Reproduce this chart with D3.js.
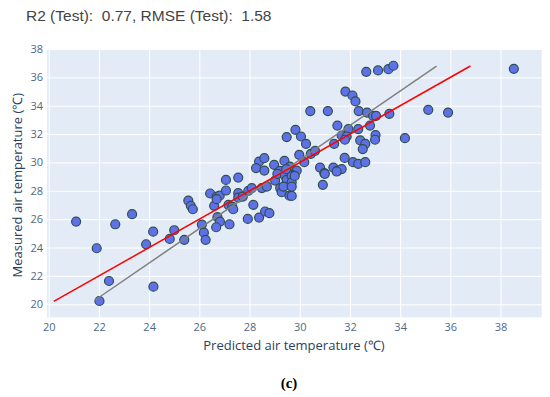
<!DOCTYPE html>
<html lang="en">
<head>
<meta charset="utf-8">
<title>Predicted vs measured air temperature</title>
<style>
  body { margin: 0; padding: 0; background: #fff; }
  svg { display: block; }
</style>
</head>
<body>
<svg id="chart" width="550" height="397"></svg>
<script src="https://d3js.org/d3.v7.min.js"></script>
<script>
// predicted (x) and measured (y) air temperature, test set
const predicted = [
  29.48, 28.38, 28.59, 28.26, 28.59, 28.98, 29.39, 29.21, 29.48, 27.06,
  27.55, 32.65, 33.12, 33.53, 33.73, 38.53, 31.82, 32.10, 32.22, 30.42,
  31.12, 32.35, 32.68, 32.92, 33.04, 33.57, 35.12, 35.91, 29.83, 31.50,
  30.05, 31.94, 32.33, 32.80, 31.67, 31.87, 31.80, 30.25, 31.37, 32.41,
  32.61, 33.02, 33.00, 32.51, 34.19, 29.98, 30.44, 30.61, 30.18, 31.79,
  32.12, 32.33, 32.61, 29.61, 29.88, 30.81, 30.98, 31.34, 31.49, 31.67,
  29.68, 21.09, 21.91, 22.65, 23.32, 22.40, 22.02, 24.17, 23.88, 24.16,
  24.82, 25.00, 25.40, 25.56, 25.66, 25.74, 26.10, 26.18, 26.25, 26.43,
  26.59, 26.69, 26.72, 26.81, 26.82, 26.67, 27.06, 27.16, 27.20, 27.31,
  27.35, 27.55, 27.55, 27.73, 27.93, 27.95, 28.09, 28.15, 28.38, 28.49,
  28.62, 28.79, 28.69, 29.02, 29.11, 29.22, 29.28, 29.41, 29.45, 29.48,
  29.59, 29.68, 29.68, 29.68, 30.92, 31.00, 31.47, 26.69, 29.46, 29.80,
  29.35, 29.68
];
const measured = [
  31.79, 30.06, 30.30, 29.60, 29.43, 29.83, 30.11, 29.41, 29.13, 28.77,
  28.93, 36.39, 36.49, 36.58, 36.82, 36.60, 35.00, 34.72, 34.30, 33.62,
  33.62, 33.62, 33.52, 33.29, 33.29, 33.43, 33.71, 33.52, 32.30, 32.60,
  31.83, 32.35, 32.35, 32.60, 31.90, 31.83, 31.60, 31.31, 31.31, 31.55,
  31.31, 31.93, 31.60, 30.94, 31.71, 30.54, 30.61, 30.82, 30.02, 30.32,
  30.02, 29.90, 30.02, 29.71, 29.43, 29.64, 29.24, 29.64, 29.41, 29.53,
  29.13, 25.83, 23.95, 25.64, 26.35, 21.64, 20.23, 21.24, 24.23, 25.12,
  24.61, 25.22, 24.54, 27.31, 26.94, 26.70, 25.62, 25.05, 24.54, 27.81,
  26.94, 27.59, 26.14, 27.66, 25.83, 25.43, 28.02, 27.01, 25.64, 26.89,
  26.70, 27.83, 27.52, 27.59, 26.02, 28.00, 28.19, 27.01, 26.11, 28.19,
  26.54, 26.42, 28.30, 28.72, 29.20, 28.19, 27.90, 29.05, 28.42, 28.77,
  27.66, 29.05, 28.60, 27.64, 28.42, 29.20, 29.36, 27.41, 29.53, 29.05,
  28.30, 28.30
];

// reference lines: identity (red) and fitted trend (grey)
const identityLine = [[20.2, 20.2], [36.8, 36.8]];
const fitLine = [[21.85, 20.3], [35.45, 36.8]];

const xTicks = [20, 22, 24, 26, 28, 30, 32, 34, 36, 38];
const yTicks = [20, 22, 24, 26, 28, 30, 32, 34, 36, 38];

const titleText = "R2 (Test):  0.77, RMSE (Test):  1.58";
const xLabel = "Predicted air temperature (\u2103)";
const yLabel = "Measured air temperature (\u2103)";
const panelLabel = "(c)";

const svg = d3.select("#chart");
const plot = { left: 47, right: 541.7, top: 49, bottom: 317.3 };

const x = d3.scaleLinear().domain([19.93, 39.64]).range([plot.left, plot.right]);
const y = d3.scaleLinear().domain([19.08, 38]).range([plot.bottom, plot.top]);

svg.append("rect")
  .attr("x", plot.left).attr("y", plot.top)
  .attr("width", plot.right - plot.left)
  .attr("height", plot.bottom - plot.top)
  .attr("fill", "#e3ecf6");

// grid
const xAxis = d3.axisBottom(x).tickValues(xTicks).tickSize(-(plot.bottom - plot.top)).tickPadding(6);
const yAxis = d3.axisLeft(y).tickValues(yTicks).tickSize(-(plot.right - plot.left)).tickPadding(4);

function styleAxis(g) {
  g.select(".domain").remove();
  g.selectAll(".tick line").attr("stroke", "#fff").attr("stroke-width", 1);
  g.selectAll(".tick text")
    .attr("fill", "#506784")
    .style("font-family", "'Open Sans', sans-serif")
    .style("font-size", "11px");
}

svg.append("g")
  .attr("transform", `translate(0,${plot.bottom})`)
  .call(xAxis).call(styleAxis);

svg.append("g")
  .attr("transform", `translate(${plot.left},0)`)
  .call(yAxis).call(styleAxis);

// points
const pts = predicted.map((p, i) => [p, measured[i]]);
svg.append("g").selectAll("circle")
  .data(pts)
  .join("circle")
  .attr("cx", d => x(d[0]))
  .attr("cy", d => y(d[1]))
  .attr("r", 4.5)
  .attr("fill", "#5f71e8")
  .attr("stroke", "#2f4f4f")
  .attr("stroke-width", 1.2);

const line = d3.line().x(d => x(d[0])).y(d => y(d[1]));

svg.append("path").datum(fitLine)
  .attr("d", line).attr("fill", "none")
  .attr("stroke", "#808080").attr("stroke-width", 1.5);

svg.append("path").datum(identityLine)
  .attr("d", line).attr("fill", "none")
  .attr("stroke", "red").attr("stroke-width", 1.5);

// texts
svg.append("text")
  .attr("x", 26).attr("y", 21)
  .attr("fill", "#444")
  .style("white-space", "pre")
  .style("font-family", "'Liberation Sans', Arial, sans-serif")
  .style("font-size", "15.5px")
  .text(titleText);

svg.append("text")
  .attr("x", 294).attr("y", 350)
  .attr("text-anchor", "middle")
  .attr("fill", "#2a3f5f")
  .style("font-family", "'Open Sans', sans-serif")
  .style("font-size", "13px")
  .text(xLabel);

svg.append("text")
  .attr("transform", `translate(22,${(plot.top + plot.bottom) / 2 + 2}) rotate(-90)`)
  .attr("text-anchor", "middle")
  .attr("fill", "#2a3f5f")
  .style("font-family", "'Open Sans', sans-serif")
  .style("font-size", "13px")
  .text(yLabel);

svg.append("text")
  .attr("x", 289).attr("y", 388)
  .attr("text-anchor", "middle")
  .attr("fill", "#000")
  .style("font-family", "'Liberation Serif', 'Times New Roman', serif")
  .style("font-weight", "bold")
  .style("font-size", "15px")
  .text(panelLabel);
</script>
</body>
</html>
